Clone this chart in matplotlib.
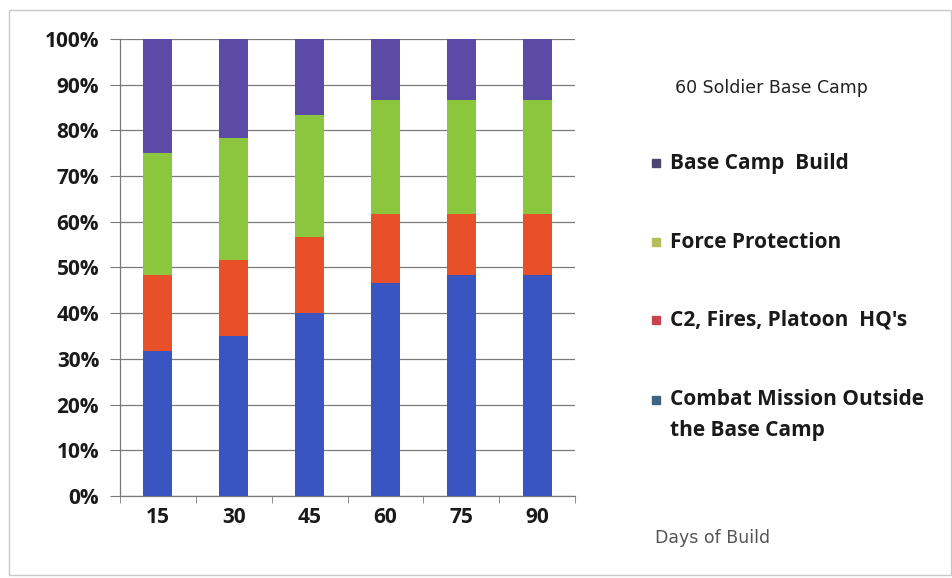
import matplotlib.pyplot as plt
import numpy as np
from matplotlib.patches import Rectangle
from matplotlib.ticker import PercentFormatter, FixedLocator

# soldiers assigned to each task out of the 60 in camp
days = ['15', '30', '45', '60', '75', '90']
combat = [19, 21, 24, 28, 29, 29]
c2_hq = [10, 10, 10, 9, 8, 8]
force_prot = [16, 16, 16, 15, 15, 15]
camp_build = [15, 13, 10, 8, 8, 8]
total = 60

series = [
    (combat, '#3a55c0', '#3f6585', 'Combat Mission Outside\nthe Base Camp'),
    (c2_hq, '#e8502a', '#c84550', "C2, Fires, Platoon  HQ's"),
    (force_prot, '#8cc63f', '#b5bf5a', 'Force Protection'),
    (camp_build, '#5b4ba6', '#4b4570', 'Base Camp  Build'),
]

fig = plt.figure(figsize=(9.53, 5.78), dpi=100)
ax = fig.add_axes([0.1259, 0.1419, 0.4775, 0.7906])

x = np.arange(len(days))
bottom = np.zeros(len(days))
for vals, col, _, _ in series:
    pct = np.array(vals) / total * 100
    ax.bar(x, pct, 0.38, bottom=bottom, color=col, zorder=3)
    bottom += pct

ax.set_xlim(-0.5, 5.5)
ax.set_ylim(0, 100)
ax.set_yticks(np.arange(0, 101, 10))
ax.yaxis.set_major_formatter(PercentFormatter(decimals=0))
ax.grid(axis='y', color='#7a7a7a', linewidth=0.9, zorder=0)
ax.set_xticks(x)
ax.set_xticklabels(days)
ax.xaxis.set_minor_locator(FixedLocator(np.arange(-0.5, 6, 1)))
ax.tick_params(axis='x', which='major', length=0, pad=8)
ax.tick_params(axis='x', which='minor', length=5, color='#7a7a7a', direction='out')
ax.tick_params(axis='y', length=7, color='#7a7a7a', pad=8)
for lab in ax.get_xticklabels() + ax.get_yticklabels():
    lab.set_fontfamily('Open Sans')
    lab.set_fontweight('bold')
    lab.set_fontsize(15)
    lab.set_color('#1a1a1a')
for s in ['top', 'right']:
    ax.spines[s].set_visible(False)
for s in ['left', 'bottom']:
    ax.spines[s].set_color('#7a7a7a')
    ax.spines[s].set_linewidth(0.9)

# outer chart frame
fig.add_artist(Rectangle((9 / 953, 1 - 575 / 578), 942 / 953, 565 / 578,
                         transform=fig.transFigure, fill=False,
                         edgecolor='#c8c8c8', linewidth=1.0))

def fx(px):
    return px / 953

def fy(py):
    return 1 - py / 578

fig.text(fx(675), fy(88), '60 Soldier Base Camp', fontsize=12.5,
         family='DejaVu Sans', color='#222222', va='center')

# legend, top entry first
legend_y = [163, 242, 320, 400]
for (vals, _, mcol, label), ly in zip(series[::-1], legend_y):
    fig.add_artist(Rectangle((fx(652), fy(ly + 4)), 8 / 953, 8 / 578,
                             transform=fig.transFigure, color=mcol))
    t = fig.text(fx(670), fy(ly), label, fontsize=15, family='Open Sans',
                 fontweight='bold', color='#1a1a1a', va='center',
                 linespacing=1.6)
    if '\n' in label:
        t.set_va('top')
        t.set_position((fx(670), fy(ly - 11)))

fig.text(fx(655), fy(538), 'Days of Build', fontsize=12.5,
         family='DejaVu Sans', color='#555555', va='center')

fig.savefig('out.png', dpi=100)
